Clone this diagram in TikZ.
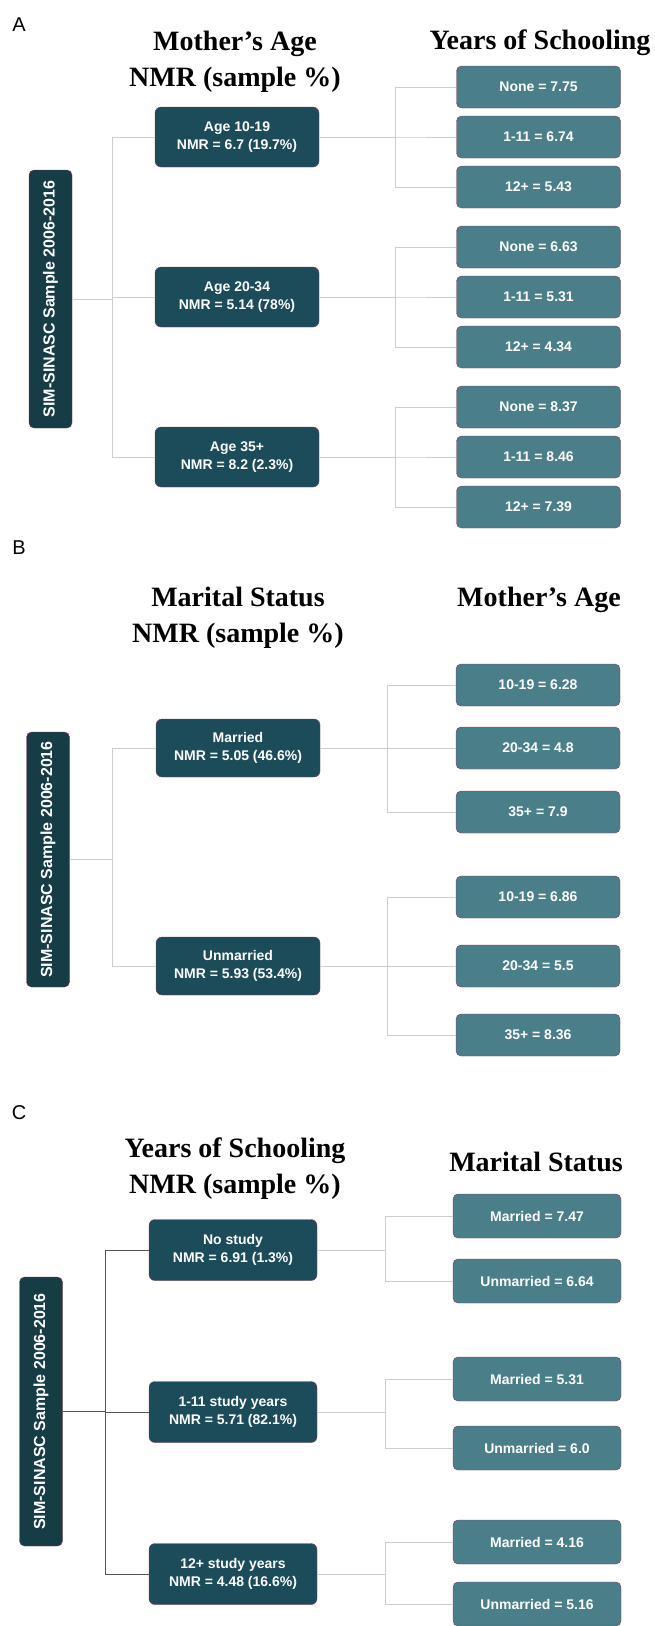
\documentclass[tikz,border=0pt]{standalone}
\usepackage{fontspec}
\setmainfont{Liberation Sans}
\newfontfamily\titlefont{Liberation Serif}
\usepackage{graphicx}
\usetikzlibrary{positioning, calc}

\definecolor{rootfill}{RGB}{22,60,70}
\definecolor{groupfill}{RGB}{28,76,90}
\definecolor{leaffill}{RGB}{74,127,138}
\definecolor{boxedge}{RGB}{130,55,95}
\definecolor{linkgray}{RGB}{205,205,205}
\definecolor{linkdark}{RGB}{85,85,85}

\tikzset{
  rootbox/.style={draw=boxedge, fill=rootfill, rounded corners=5pt, text=white, font=\fontsize{16}{19}\selectfont\bfseries, inner sep=0pt, minimum width=43pt},
  groupbox/.style={draw=boxedge, fill=groupfill, rounded corners=6pt, text=white, font=\fontsize{14}{18}\selectfont\bfseries, align=center, minimum width=164pt, minimum height=60pt, inner sep=0pt},
  leafbox/.style={draw=boxedge, fill=leaffill, rounded corners=5pt, text=white, font=\fontsize{14}{17}\selectfont\bfseries, minimum width=164pt, minimum height=42pt, inner sep=0pt},
  heading/.style={font=\titlefont\fontsize{28}{36}\selectfont\bfseries, align=center},
  panel/.style={font=\fontsize{20}{24}\selectfont},
  link/.style={draw=linkgray, line width=0.9pt},
  darklink/.style={draw=linkdark, line width=0.9pt}
}

\begin{document}
\begin{tikzpicture}[x=1pt, y=-1pt]

\useasboundingbox (0,0) rectangle (654,1626);

% ---------------- Panel A ----------------
\node[panel] (labA) at (19,25) {A};
\node[heading] (headA1) at (235,62) {Mother’s Age\\NMR (sample \%)};
\node[heading] (headA2) at (540,43) {Years of Schooling};

\node[rootbox, minimum height=258pt] (rootA) at (50.5,299) {\rotatebox{90}{SIM-SINASC Sample 2006-2016}};

\node[groupbox] (ageA1) at (237,137) {Age 10-19\\NMR = 6.7 (19.7\%)};
\node[groupbox] (ageA2) at (237,297) {Age 20-34\\NMR = 5.14 (78\%)};
\node[groupbox] (ageA3) at (237,457) {Age 35+\\NMR = 8.2 (2.3\%)};

\node[leafbox] (yrsA11) at (538.5,87) {None = 7.75};
\node[leafbox] (yrsA12) at (538.5,137) {1-11 = 6.74};
\node[leafbox] (yrsA13) at (538.5,187) {12+ = 5.43};
\node[leafbox] (yrsA21) at (538.5,247) {None = 6.63};
\node[leafbox] (yrsA22) at (538.5,297) {1-11 = 5.31};
\node[leafbox] (yrsA23) at (538.5,347) {12+ = 4.34};
\node[leafbox] (yrsA31) at (538.5,407) {None = 8.37};
\node[leafbox] (yrsA32) at (538.5,457) {1-11 = 8.46};
\node[leafbox] (yrsA33) at (538.5,507) {12+ = 7.39};

% Connectors
\foreach \g in {ageA1,ageA2,ageA3}
    \draw[link] (rootA.east) -- ++(40,0) |- (\g.west);
\foreach \i in {1,2,3}
    \foreach \j in {1,2,3}
        \draw[link] (ageA\i.east) -- ++(76,0) |- (yrsA\i\j.west);

% ---------------- Panel B ----------------
\node[panel] (labB) at (19,548) {B};
\node[heading] (headB1) at (238,618) {Marital Status\\NMR (sample \%)};
\node[heading] (headB2) at (539,600) {Mother’s Age};

\node[rootbox, minimum height=255pt] (rootB) at (48,859.5) {\rotatebox{90}{SIM-SINASC Sample 2006-2016}};

\node[groupbox, minimum height=58pt] (marB1) at (238,748) {Married\\NMR = 5.05 (46.6\%)};
\node[groupbox, minimum height=58pt] (marB2) at (238,966) {Unmarried\\NMR = 5.93 (53.4\%)};

\node[leafbox] (ageB11) at (538,685) {10-19 = 6.28};
\node[leafbox] (ageB12) at (538,748) {20-34 = 4.8};
\node[leafbox] (ageB13) at (538,812) {35+ = 7.9};
\node[leafbox] (ageB21) at (538,897) {10-19 = 6.86};
\node[leafbox] (ageB22) at (538,966) {20-34 = 5.5};
\node[leafbox] (ageB23) at (538,1035) {35+ = 8.36};

% Connectors
\foreach \g in {marB1,marB2}
    \draw[link] (rootB.east) -- ++(43,0) |- (\g.west);
\foreach \i in {1,2}
    \foreach \j in {1,2,3}
        \draw[link] (marB\i.east) -- ++(67,0) |- (ageB\i\j.west);

% ---------------- Panel C ----------------
\node[panel] (labC) at (19,1113) {C};
\node[heading] (headC1) at (235,1169) {Years of Schooling\\NMR (sample \%)};
\node[heading] (headC2) at (536,1162) {Marital Status};

\node[rootbox, minimum height=269pt] (rootC) at (41,1411.5) {\rotatebox{90}{SIM-SINASC Sample 2006-2016}};

\node[groupbox, minimum width=168pt, minimum height=61pt] (schC1) at (233,1250) {No study\\NMR = 6.91 (1.3\%)};
\node[groupbox, minimum width=168pt, minimum height=61pt] (schC2) at (233,1412) {1-11 study years\\NMR = 5.71 (82.1\%)};
\node[groupbox, minimum width=168pt, minimum height=61pt] (schC3) at (233,1574) {12+ study years\\NMR = 4.48 (16.6\%)};

\node[leafbox, minimum width=168pt, minimum height=44pt] (marC11) at (537,1216) {Married = 7.47};
\node[leafbox, minimum width=168pt, minimum height=44pt] (marC12) at (537,1281) {Unmarried = 6.64};
\node[leafbox, minimum width=168pt, minimum height=44pt] (marC21) at (537,1379) {Married = 5.31};
\node[leafbox, minimum width=168pt, minimum height=44pt] (marC22) at (537,1448) {Unmarried = 6.0};
\node[leafbox, minimum width=168pt, minimum height=44pt] (marC31) at (537,1542) {Married = 4.16};
\node[leafbox, minimum width=168pt, minimum height=44pt] (marC32) at (537,1604) {Unmarried = 5.16};

% Connectors
\foreach \g in {schC1,schC2,schC3}
    \draw[darklink] (rootC.east) -- ++(43,0) |- (\g.west);
\foreach \i in {1,2,3}
    \foreach \j in {1,2}
        \draw[link] (schC\i.east) -- ++(68,0) |- (marC\i\j.west);

\end{tikzpicture}
\end{document}
